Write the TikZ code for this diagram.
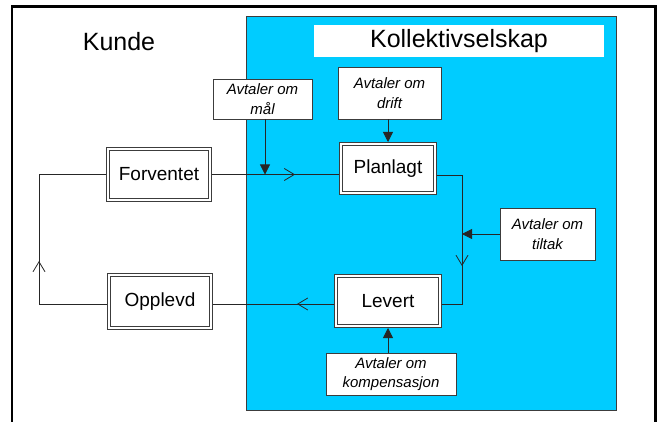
\documentclass[tikz,border=0pt]{standalone}
\usepackage{fontspec}
\setmainfont{Liberation Sans}
\usetikzlibrary{arrows.meta,decorations.markings,calc}
\definecolor{cyanbg}{RGB}{0,204,255}
\definecolor{edgegray}{RGB}{60,60,60}
\begin{document}
\begin{tikzpicture}[x=1pt,y=-1pt,
 dbox/.style={draw=edgegray, double=white, double distance=1.6pt, line width=0.9pt, fill=white, inner sep=0pt, outer sep=2pt, font=\fontsize{19}{22}\selectfont},
 abox/.style={draw=edgegray, line width=0.8pt, fill=white, inner sep=0pt, align=center, font=\fontsize{15}{19.5}\selectfont\itshape},
 conn/.style={draw=black!85, line width=0.8pt},
 farrow/.style={conn, -{Triangle[length=10pt,width=10pt]}},
 chev/.style={postaction={decorate}, decoration={markings, mark=at position #1 with {\arrow{Straight Barb[length=10pt,width=12pt,line width=0.8pt]}}}}
]
\useasboundingbox (0,0) rectangle (659,422);
\begin{scope}
\clip (0,0) rectangle (659,422);
\draw[line width=2.6pt] (12,6.7) rectangle (655.5,440);
\end{scope}
% blue area
\draw[fill=cyanbg, draw=edgegray, line width=0.8pt] (246.7,16.7) rectangle (616,410);
\fill[white] (314,25) rectangle (604,57);
\node[font=\fontsize{25}{30}\selectfont] (title) at (459,41) {Kollektivselskap};
\node[font=\fontsize{25}{30}\selectfont] (kunde) at (119,42) {Kunde};
% main boxes
\node[dbox, minimum width=102pt, minimum height=51pt] (Forventet) at (159,174.5) {Forventet};
\node[dbox, minimum width=94pt, minimum height=49pt] (Planlagt) at (388,168.5) {Planlagt};
\node[dbox, minimum width=104pt, minimum height=50pt] (Levert) at (388,301) {Levert};
\node[dbox, minimum width=102pt, minimum height=53pt] (Opplevd) at (160,301.5) {Opplevd};
% agreement boxes
\node[abox, minimum width=99pt, minimum height=40pt] (mal) at (262.5,99) {Avtaler om\\mål};
\node[abox, minimum width=103pt, minimum height=52pt] (drift) at (389.5,93) {Avtaler om\\drift};
\node[abox, minimum width=95pt, minimum height=52pt] (tiltak) at (547.5,234) {Avtaler om\\tiltak};
\node[abox, minimum width=130pt, minimum height=42pt] (komp) at (391,374) {Avtaler om\\kompensasjon};
% connectors
\coordinate (pr) at (462,175);
\coordinate (lb) at (39,304);
\coordinate (lt) at (39,174.5);
\coordinate (ms) at (265,119);
\coordinate (mt) at (265,174.5);
\draw[conn, chev=83pt] (Forventet.east) -- (Forventet.east -| Planlagt.west);
\draw[conn, chev=116pt] ($(Planlagt.east)+(0,6.5)$) -- (pr) |- ($(Levert.east)+(0,3)$);
\draw[conn, chev=37pt] ($(Levert.west)+(0,3)$) -- ($(Opplevd.east)+(0,2.5)$);
\draw[conn, chev=111pt] ($(Opplevd.west)+(0,2.5)$) -- (lb) -- (lt) -- (Forventet.west);
\draw[farrow] (ms) -- (mt);
\draw[farrow] (drift.south -| Planlagt.north) -- (Planlagt.north);
\draw[farrow] (tiltak.west) -- (tiltak.west -| pr);
\draw[farrow] (komp.north -| Levert.south) -- (Levert.south);
\end{tikzpicture}
\end{document}
